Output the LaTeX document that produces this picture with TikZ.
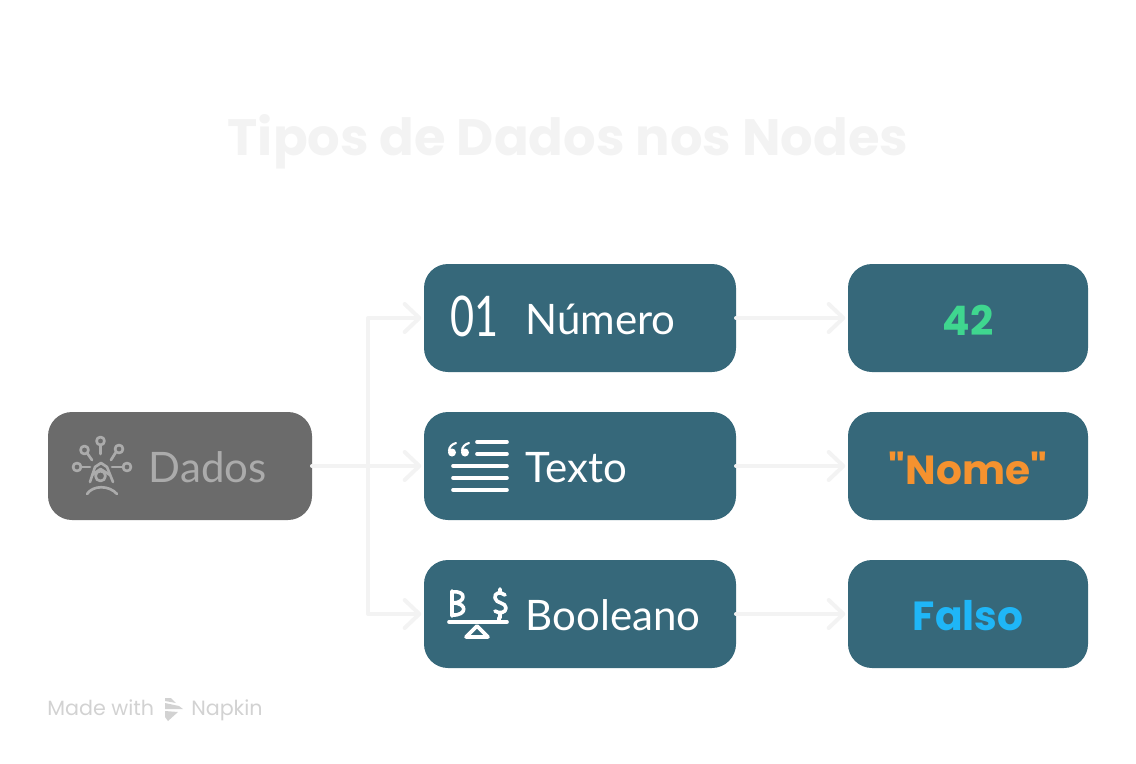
\documentclass[tikz,border=0pt]{standalone}
\usepackage{fontspec}
\setmainfont{Poppins}
\newfontfamily\handfont{Lato}
\newfontfamily\headfont{Poppins}
\usetikzlibrary{positioning,arrows.meta}

\definecolor{boxblue}{HTML}{36687A}
\definecolor{boxgrey}{HTML}{6B6B6B}
\definecolor{dimgrey}{HTML}{ABABAB}
\definecolor{linegrey}{HTML}{F3F3F3}
\definecolor{footgrey}{HTML}{D2D2D2}
\definecolor{numgreen}{HTML}{3FD68F}
\definecolor{txtorange}{HTML}{F5922F}
\definecolor{falseblue}{HTML}{1FB6F7}

\begin{document}
\begin{tikzpicture}[x=.75pt,y=-.75pt]
	\tikzset{card/.style={fill=boxblue,rounded corners=18pt,inner sep=0pt,outer sep=0pt,minimum height=81pt}}
	\tikzset{typecard/.style={card,minimum width=234pt}}
	\tikzset{valuecard/.style={card,minimum width=180pt}}
	\tikzset{valuelabel/.style={inner sep=0pt,yshift=-1.5pt,font=\headfont\bfseries\fontsize{30.5}{30.5}\selectfont}}
	\tikzset{cardlabel/.style={anchor=base west,inner sep=0pt,text=white,font=\handfont\fontsize{31.5}{31.5}\selectfont}}
	\tikzset{link/.style={draw=linegrey,line width=3pt,line cap=round,line join=round,-{Straight Barb[length=11pt,width=21pt,round]},shorten >=2pt}}
	\tikzset{icon/.style={draw=white,line width=2.7pt,line cap=round,line join=round}}
	\tikzset{footnote/.style={anchor=base west,inner sep=0pt,text=footgrey,font=\fontsize{15.5}{15.5}\selectfont}}
	\useasboundingbox (0,0) rectangle (1136,764);

	\node (title) [text=linegrey,font=\headfont\bfseries\fontsize{38.4}{38.4}\selectfont] at (568,142) {Tipos de Dados nos Nodes};

	\node (texto) [typecard] at (580,466) {};
	\node (numero) [typecard,above=30pt of texto] {};
	\node (booleano) [typecard,below=30pt of texto] {};
	\node (dados) [card,fill=boxgrey,minimum width=198pt,left=84pt of texto] {};
	\node (val42) [valuecard,right=84pt of numero] {};
	\node (valnome) [valuecard,right=84pt of texto] {};
	\node (valfalso) [valuecard,right=84pt of booleano] {};

	\node (label42) [valuelabel,text=numgreen] at (val42) {42};
	\node (labelnome) [valuelabel,text=txtorange] at (valnome) {"Nome"};
	\node (labelfalso) [valuelabel,text=falseblue] at (valfalso) {Falso};

	\node (dadoslabel) [cardlabel,text=dimgrey,xshift=75.5pt,yshift=-12pt] at (dados.west) {Dados};
	\node (numerolabel) [cardlabel,xshift=76pt,yshift=-12pt] at (numero.west) {Número};
	\node (textolabel) [cardlabel,xshift=76pt,yshift=-12pt] at (texto.west) {Texto};
	\node (booleanolabel) [cardlabel,xshift=76pt,yshift=-12pt] at (booleano.west) {Booleano};
	\node (zeroum) [cardlabel,font=\handfont\fontsize{42}{42}\selectfont,xscale=.74,xshift=27pt,yshift=-14pt] at (numero.west) {01};

	% connectors
	\coordinate (fork) at (368,466);
	\draw[link] (dados.east) -- (texto.west);
	\draw[link] (fork) |- (numero.west);
	\draw[link] (fork) |- (booleano.west);
	\draw[link] (numero.east) -- (val42.west);
	\draw[link] (texto.east) -- (valnome.west);
	\draw[link] (booleano.east) -- (valfalso.west);

	% icon of dados
	\begin{scope}[icon,draw=dimgrey,line width=2pt]
		\foreach \cx/\cy/\ex/\ey in {100.5/445/100.5/454, 87/453/92/460, 116/452/111/460, 81/467/90/467, 123/467/112/467}
			\draw (\ex,\ey) -- (\cx,\cy);
		\foreach \cx/\cy in {100.5/441, 84.5/450, 119/449, 77/467, 127/467}
			\draw (\cx,\cy) circle (4);
		\draw (90,482) -- (95,467) -- (101,463) -- (107,467) -- (113,482);
		\draw (92,475) -- (100.5,469) -- (110,475);
		\draw (100.5,476) circle (5);
		\draw (87,494) .. controls (93,485) and (109,485) .. (117,494);
	\end{scope}

	% icon of texto
	\foreach \lx/\ly in {477/442,477/454,453/466,453/478,453/490}
		\draw[icon] (\lx,\ly) -- (507,\ly);
	\foreach \qx in {452,465} {
		\fill[white] (\qx,452.5) circle (4);
		\draw[icon,line width=1.6pt] (\qx-3,451) .. controls (\qx-3,447) and (\qx,444) .. (\qx+4,443);
	}

	% icon of booleano
	\draw[icon] (449,622) -- (507,622);
	\draw[icon] (477,626) -- (488,637) -- (466,637) -- cycle;
	\draw[icon] (499,618) -- (499,622);
	\draw[icon] (452,591) -- (452,616) (452,592) .. controls (467,590) and (466,603) .. (453,603) .. controls (468,603) and (467,616) .. (452,615);
	\draw[icon] (505,595) .. controls (500,591) and (494,593) .. (495,598) .. controls (496,604) and (506,602) .. (506,608) .. controls (506,613) and (499,614) .. (495,611) (500,589) -- (500,593) (500,613) -- (500,618);

	% footer
	\node (madewith) [footnote] at (47,715) {Made with};
	\node (napkin) [footnote] at (191,715) {Napkin};
	\fill[footgrey] (165,698) -- (171,698) -- (176,703) -- (165,701) -- cycle
		(165,703) -- (179,706) -- (183,709) -- (165,709) -- cycle
		(165,711) -- (178,712) -- (168,721) -- (165,717) -- cycle;
\end{tikzpicture}
\end{document}
